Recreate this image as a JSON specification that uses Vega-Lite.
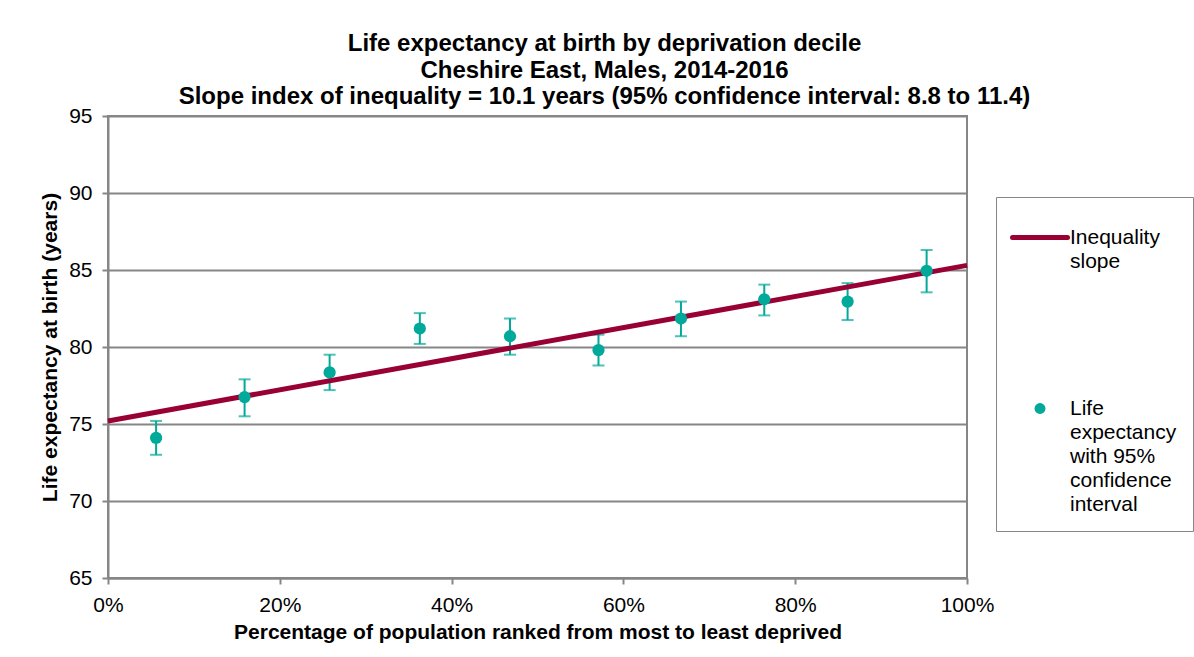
{
  "$schema": "https://vega.github.io/schema/vega-lite/v6.json",
  "width": 859,
  "height": 462,
  "autosize": {"type": "none"},
  "padding": {"left": 108, "top": 116, "right": 227, "bottom": 79},
  "background": "white",
  "datasets": {
    "points": [
      {"pct": 0.056, "le": 74.1, "lo": 73.0, "hi": 75.2, "series": "Life expectancy with 95% confidence interval"},
      {"pct": 0.159, "le": 76.75, "lo": 75.5, "hi": 77.9, "series": "Life expectancy with 95% confidence interval"},
      {"pct": 0.258, "le": 78.35, "lo": 77.2, "hi": 79.5, "series": "Life expectancy with 95% confidence interval"},
      {"pct": 0.363, "le": 81.2, "lo": 80.2, "hi": 82.2, "series": "Life expectancy with 95% confidence interval"},
      {"pct": 0.468, "le": 80.7, "lo": 79.5, "hi": 81.85, "series": "Life expectancy with 95% confidence interval"},
      {"pct": 0.571, "le": 79.8, "lo": 78.8, "hi": 80.8, "series": "Life expectancy with 95% confidence interval"},
      {"pct": 0.667, "le": 81.85, "lo": 80.7, "hi": 82.95, "series": "Life expectancy with 95% confidence interval"},
      {"pct": 0.764, "le": 83.1, "lo": 82.05, "hi": 84.05, "series": "Life expectancy with 95% confidence interval"},
      {"pct": 0.861, "le": 82.95, "lo": 81.75, "hi": 84.15, "series": "Life expectancy with 95% confidence interval"},
      {"pct": 0.953, "le": 84.95, "lo": 83.55, "hi": 86.3, "series": "Life expectancy with 95% confidence interval"}
    ],
    "slope": [
      {"pct": 0, "le": 75.2, "series": "Inequality slope"},
      {"pct": 1, "le": 85.3, "series": "Inequality slope"}
    ]
  },
  "title": {
    "text": ["Life expectancy at birth by deprivation decile", "Cheshire East, Males, 2014-2016", "Slope index of inequality = 10.1 years (95% confidence interval: 8.8 to 11.4)"],
    "fontSize": 24,
    "fontWeight": "bold",
    "color": "black",
    "anchor": "middle",
    "lineHeight": 26.5,
    "dx": 67,
    "dy": 12,
    "offset": 8
  },
  "layer": [
    {
      "data": {"name": "points"},
      "mark": {"type": "rule", "color": "#00A99A", "strokeWidth": 2},
      "encoding": {
        "x": {"field": "pct", "type": "quantitative"},
        "y": {"field": "lo", "type": "quantitative"},
        "y2": {"field": "hi"}
      }
    },
    {
      "data": {"name": "points"},
      "mark": {"type": "tick", "orient": "horizontal", "color": "#00A99A", "size": 12, "thickness": 2},
      "encoding": {
        "x": {"field": "pct", "type": "quantitative"},
        "y": {"field": "lo", "type": "quantitative"}
      }
    },
    {
      "data": {"name": "points"},
      "mark": {"type": "tick", "orient": "horizontal", "color": "#00A99A", "size": 12, "thickness": 2},
      "encoding": {
        "x": {"field": "pct", "type": "quantitative"},
        "y": {"field": "hi", "type": "quantitative"}
      }
    },
    {
      "data": {"name": "slope"},
      "mark": {"type": "line", "strokeWidth": 5},
      "encoding": {
        "x": {"field": "pct", "type": "quantitative"},
        "y": {"field": "le", "type": "quantitative"},
        "color": {"field": "series", "type": "nominal"}
      }
    },
    {
      "data": {"name": "points"},
      "mark": {"type": "point", "filled": true, "opacity": 1, "size": 150},
      "encoding": {
        "x": {"field": "pct", "type": "quantitative"},
        "y": {"field": "le", "type": "quantitative"},
        "color": {"field": "series", "type": "nominal"}
      }
    }
  ],
  "resolve": {"scale": {"color": "shared"}},
  "encoding": {
    "x": {
      "field": "pct",
      "type": "quantitative",
      "scale": {"domain": [0, 1], "nice": false},
      "axis": {
        "values": [0, 0.2, 0.4, 0.6, 0.8, 1],
        "format": ".0%",
        "grid": false,
        "labelFlush": false,
        "labelBound": false,
        "labelOverlap": false,
        "title": "Percentage of population ranked from most to least deprived",
        "labelPadding": 10,
        "titlePadding": 6
      }
    },
    "y": {
      "field": "le",
      "type": "quantitative",
      "scale": {"domain": [65, 95], "nice": false, "zero": false},
      "axis": {
        "values": [65, 70, 75, 80, 85, 90, 95],
        "grid": true,
        "labelFlush": false,
        "labelOverlap": false,
        "title": "Life expectancy at birth (years)",
        "labelPadding": 10,
        "titlePadding": 8
      }
    },
    "color": {
      "field": "series",
      "type": "nominal",
      "scale": {
        "domain": ["Inequality slope", "Life expectancy with 95% confidence interval"],
        "range": ["#990033", "#00A99A"]
      },
      "legend": {
        "title": " ",
        "titleFontSize": 8,
        "titlePadding": 6,
        "orient": "none",
        "legendX": 888,
        "legendY": 81,
        "padding": 16,
        "strokeColor": "#868686",
        "fillColor": "white",
        "labelFontSize": 21,
        "labelColor": "black",
        "labelLimit": 300,
        "labelOffset": 37,
        "labelBaseline": "top",
        "rowPadding": 125,
        "labelExpr": "datum.label == 'Inequality slope' ? ['Inequality', 'slope'] : ['Life', 'expectancy', 'with 95%', 'confidence', 'interval']",
        "encode": {
          "labels": {"update": {"dy": {"value": -11}, "lineHeight": {"value": 24}}},
          "symbols": {
            "update": {
              "xc": {"value": 28},
              "shape": {"signal": "datum.value == 'Inequality slope' ? 'stroke' : 'circle'"},
              "size": {"signal": "datum.value == 'Inequality slope' ? 3025 : 120"},
              "strokeWidth": {"signal": "datum.value == 'Inequality slope' ? 5 : 0"},
              "stroke": {"signal": "scale('color', datum.value)"},
              "fill": {"signal": "scale('color', datum.value)"},
              "opacity": {"value": 1},
              "strokeCap": {"value": "round"}
            }
          }
        }
      }
    }
  },
  "config": {
    "font": "Liberation Sans",
    "view": {"stroke": "#868686", "strokeWidth": 2},
    "axis": {
      "domainColor": "#868686",
      "domainWidth": 2,
      "tickColor": "#868686",
      "tickWidth": 2,
      "tickSize": 6,
      "gridColor": "#868686",
      "gridWidth": 2,
      "labelFontSize": 21,
      "labelColor": "black",
      "titleFontSize": 21,
      "titleFontWeight": "bold",
      "titleColor": "black",
      "labelFont": "Liberation Sans",
      "titleFont": "Liberation Sans"
    }
  }
}
